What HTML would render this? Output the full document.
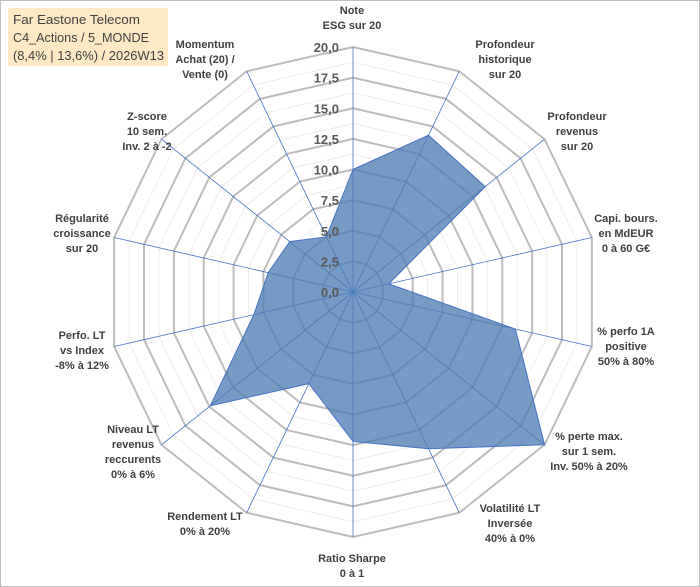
<!DOCTYPE html>
<html><head><meta charset="utf-8"><style>
html,body{margin:0;padding:0;background:#fff}
svg{display:block;font-family:"Liberation Sans",Arial,sans-serif}
</style></head><body>
<svg id="chart" width="700" height="587" viewBox="0 0 700 587">
<rect x="0.5" y="0.5" width="699" height="586" fill="#fff" stroke="#bfbfbf"/>
<g id="grid"></g>
<g id="series"></g>
<g id="ticks"></g>
<g id="labels"></g>
<g>
<rect x="8" y="8" width="160" height="58" fill="#fde9c4"/>
<text x="13" y="24" font-size="13" fill="#404040" textLength="127" lengthAdjust="spacingAndGlyphs">Far Eastone Telecom</text>
<text x="13" y="42" font-size="13" fill="#404040" textLength="136" lengthAdjust="spacingAndGlyphs">C4_Actions / 5_MONDE</text>
<text x="13" y="60" font-size="13" fill="#404040" textLength="151" lengthAdjust="spacingAndGlyphs">(8,4% | 13,6%) / 2026W13</text>
</g>
</svg>
<script>
const categories = [
 ["Note","ESG sur 20"],
 ["Profondeur","historique","sur 20"],
 ["Profondeur","revenus","sur 20"],
 ["Capi. bours.","en MdEUR","0 à 60 G€"],
 ["% perfo 1A","positive","50% à 80%"],
 ["% perte max.","sur 1 sem.","Inv. 50% à 20%"],
 ["Volatilité LT","Inversée","40% à 0%"],
 ["Ratio Sharpe","0 à 1"],
 ["Rendement LT","0% à 20%"],
 ["Niveau LT","revenus","reccurents","0% à 6%"],
 ["Perfo. LT","vs Index","-8% à 12%"],
 ["Régularité","croissance","sur 20"],
 ["Z-score","10 sem.","Inv. 2 à -2"],
 ["Momentum","Achat (20) /","Vente (0)"]
];
const values = [10, 14.2, 13.8, 3.0, 13.6, 20, 14.2, 12.2, 8.3, 14.9, 8.3, 7.1, 6.6, 5.0];
const tickValues = [0, 2.5, 5, 7.5, 10, 12.5, 15, 17.5, 20];
const tickLabels = ["0,0","2,5","5,0","7,5","10,0","12,5","15,0","17,5","20,0"];
const labelPos = [[352,14],[505,48],[577,120],[626,222],[626,335],[589,440],[510,512],[352,562],[205,520],[133,433],[82,339],[82,222],[147,120],[205,48]];

const NS="http://www.w3.org/2000/svg";
const cx=353, cy=292, R=245, maxV=20;
const n=categories.length;
function ang(i){return -Math.PI/2 + i*2*Math.PI/n;}
function pt(i,v){const r=v/maxV*R;return [cx+r*Math.cos(ang(i)), cy+r*Math.sin(ang(i))];}
function mk(tag,attrs,parent){const e=document.createElementNS(NS,tag);for(const k in attrs)e.setAttribute(k,attrs[k]);parent.appendChild(e);return e;}
const grid=document.getElementById('grid');
for(let k=0;k<8;k++){
 const v=k*2.5+1.25;
 const p=categories.map((c,i)=>pt(i,v).join(',')).join(' ');
 const e=mk('polygon',{points:p,fill:'none',stroke:'#ececec','stroke-width':1},grid);
 
 
}
tickValues.forEach(v=>{
 if(v===0)return;
 const p=categories.map((c,i)=>pt(i,v).join(',')).join(' ');
 const e=mk('polygon',{points:p,fill:'none',stroke:'#bcbcbc','stroke-width':2},grid);
 
 
});
categories.forEach((c,i)=>{
 const [x,y]=pt(i,maxV);
 const e=mk('line',{x1:cx,y1:cy,x2:x,y2:y,stroke:'#4472c4','stroke-width':0.8},grid);
 
 
});
const ser=document.getElementById('series');
const area=mk('polygon',{points:values.map((v,i)=>pt(i,v).join(',')).join(' '),fill:'#4f7fb5','fill-opacity':0.78,stroke:'#4472c4','stroke-width':1},ser);


const tk=document.getElementById('ticks');
tickValues.forEach((v,k)=>{
 const y=cy - v/maxV*R;
 const t=mk('text',{x:cx-14,y:y+5,'text-anchor':'end','font-size':13,'font-weight':'bold',fill:'#595959'},tk);
 t.textContent=tickLabels[k];
 
 
});
const lb=document.getElementById('labels');
categories.forEach((lines,i)=>{
 const [x,y]=labelPos[i];
 const t=mk('text',{x:x,y:y,'text-anchor':'middle','font-size':11,'font-weight':'bold',fill:'#404040'},lb);
 
 
 lines.forEach((s,j)=>{const ts=mk('tspan',{x:x,y:y+j*15},t);ts.textContent=s;});
});
</script>
</body></html>
